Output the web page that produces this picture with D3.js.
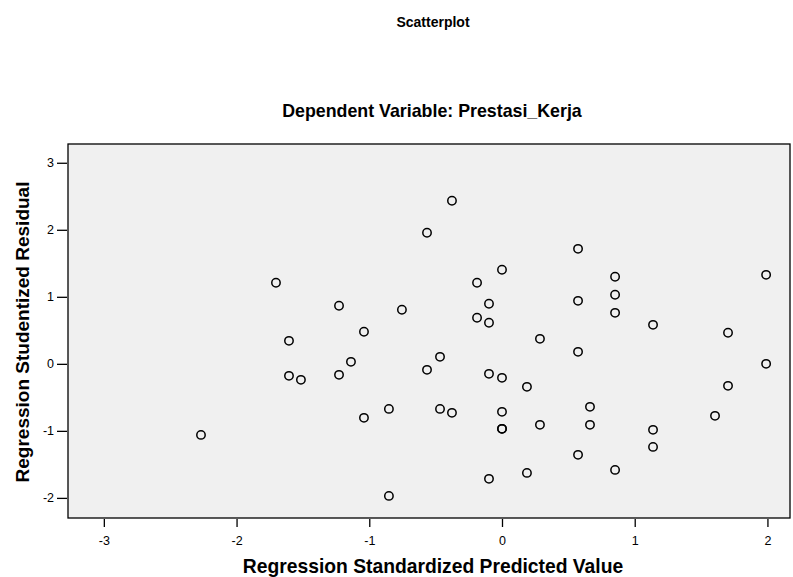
<!DOCTYPE html>
<html>
<head>
<meta charset="utf-8">
<script src="https://cdn.jsdelivr.net/npm/d3@7"></script>
<style>
  body { margin: 0; background: #fff; }
  text { font-family: "Liberation Sans", Arial, sans-serif; }
</style>
</head>
<body>
<svg id="chart"></svg>
<script>
// predicted (standardized) and residual (studentized) values
var predicted = [-2.268, -1.703, -1.605, -1.605, -1.515, -1.228, -1.228, -1.138, -1.04, -1.04,
  -0.852, -0.852, -0.754, -0.565, -0.565, -0.467, -0.467, -0.377, -0.377, -0.188,
  -0.188, -0.098, -0.098, -0.098, -0.098, 0, 0, 0, 0, 0,
  0.188, 0.188, 0.286, 0.286, 0.573, 0.573, 0.573, 0.573, 0.663, 0.663,
  0.852, 0.852, 0.852, 0.852, 1.138, 1.138, 1.138, 1.605, 1.703, 1.703,
  1.99, 1.99];
var residual = [-1.06, 1.209, 0.343, -0.179, -0.239, 0.866, -0.164, 0.03, 0.478, -0.806,
  -0.672, -1.97, 0.806, 1.955, -0.09, 0.104, -0.672, 2.433, -0.731, 1.209,
  0.687, 0.896, 0.612, -0.149, -1.716, 1.403, -0.209, -0.716, -0.97, -0.97,
  -0.343, -1.627, 0.373, -0.91, 1.716, 0.94, 0.179, -1.358, -0.642, -0.91,
  1.299, 1.03, 0.761, -1.582, 0.582, -0.985, -1.239, -0.776, 0.463, -0.328,
  1.328, 0.0];
var xTicks = [-3, -2, -1, 0, 1, 2];
var yTicks = [-2, -1, 0, 1, 2, 3];

var W = 793, H = 577;
var plotLeft = 68, plotRight = 790, plotTop = 144, plotBottom = 518;

var svg = d3.select("#chart").attr("width", W).attr("height", H);

var x = d3.scaleLinear().domain([-3.27, 2.17]).range([plotLeft, plotRight]);
var y = d3.scaleLinear().domain([-2.30, 3.28]).range([plotBottom, plotTop]);

svg.append("text")
    .attr("x", 433).attr("y", 27)
    .attr("text-anchor", "middle")
    .attr("font-weight", "bold")
    .attr("font-size", "14px")
    .text("Scatterplot");

svg.append("text")
    .attr("x", 432).attr("y", 117)
    .attr("text-anchor", "middle")
    .attr("font-weight", "bold")
    .attr("font-size", "17.8px")
    .text("Dependent Variable: Prestasi_Kerja");

// plot frame
svg.append("rect")
    .attr("x", plotLeft).attr("y", plotTop)
    .attr("width", plotRight - plotLeft).attr("height", plotBottom - plotTop)
    .attr("fill", "#f0f0f0")
    .attr("stroke", "#000")
    .attr("stroke-width", 1.3);

var fmt = function(d){ return String(d); };
var xAxis = svg.append("g")
    .attr("transform", "translate(0," + (plotBottom + 1) + ")")
    .call(d3.axisBottom(x).tickValues(xTicks).tickSize(8).tickPadding(9).tickFormat(fmt));
var yAxis = svg.append("g")
    .attr("transform", "translate(" + (plotLeft - 1) + ",0)")
    .call(d3.axisLeft(y).tickValues(yTicks).tickSize(10).tickPadding(3).tickFormat(fmt));
[xAxis, yAxis].forEach(function(a){
    a.select(".domain").remove();
    a.selectAll(".tick line").attr("stroke", "#000").attr("stroke-width", 1.3);
    a.selectAll(".tick text")
        .attr("fill", "#000")
        .style("font-family", "'Liberation Sans', Arial, sans-serif")
        .style("font-size", "12.5px");
});

svg.append("g")
    .selectAll("circle")
    .data(d3.range(predicted.length))
    .enter()
    .append("circle")
        .attr("cx", function(i){ return x(predicted[i]); })
        .attr("cy", function(i){ return y(residual[i]); })
        .attr("r", 4.2)
        .attr("fill", "none")
        .attr("stroke", "#000")
        .attr("stroke-width", 1.5);

svg.append("text")
    .attr("x", 433).attr("y", 573)
    .attr("text-anchor", "middle")
    .attr("font-weight", "bold")
    .attr("font-size", "19.3px")
    .text("Regression Standardized Predicted Value");

svg.append("text")
    .attr("transform", "translate(29,332) rotate(-90)")
    .attr("text-anchor", "middle")
    .attr("font-weight", "bold")
    .attr("font-size", "19px")
    .text("Regression Studentized Residual");
</script>
</body>
</html>
